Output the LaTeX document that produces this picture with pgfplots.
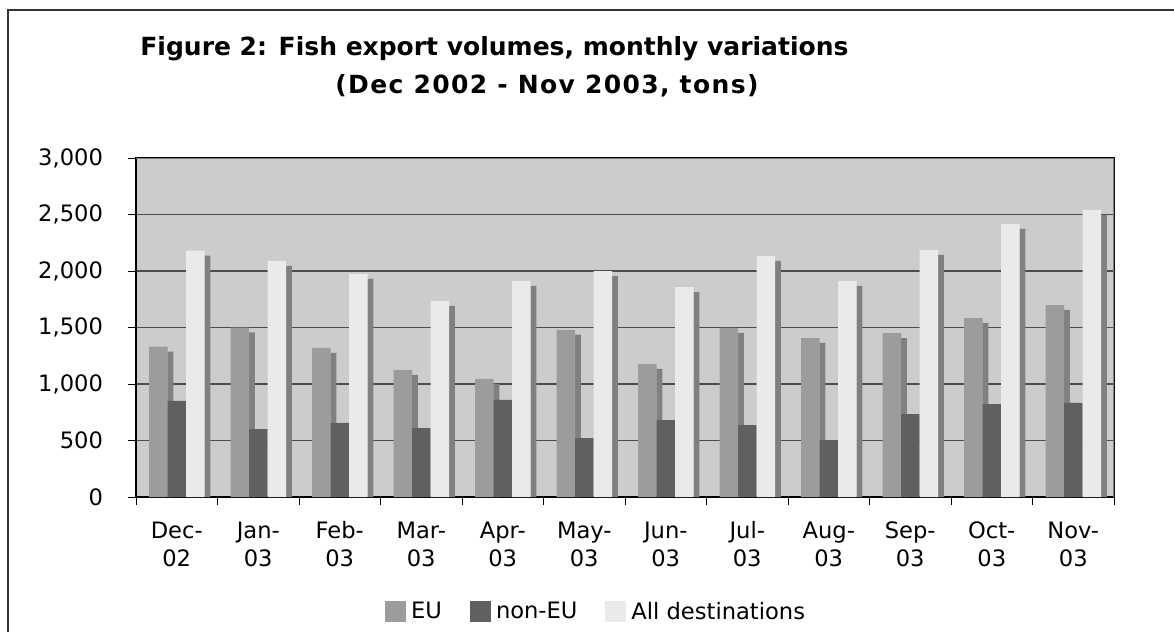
\documentclass[border=0pt]{standalone}
\usepackage{fontspec}
\setmainfont{DejaVu Sans}
\usepackage{pgfplots}
\usepackage{pgfplotstable}
\pgfplotsset{compat=1.18}
\definecolor{bgcol}{HTML}{CCCCCC}
\definecolor{eucol}{HTML}{9C9C9C}
\definecolor{sidecol}{HTML}{808080}
\definecolor{necol}{HTML}{606060}
\definecolor{allcol}{HTML}{EAEAEA}
\newcommand{\ml}[2]{\rule{0pt}{9pt}#1-\\#2}
\pgfplotstableread{
m EU nonEU All
0 1330 850 2180
1 1500 600 2090
2 1320 655 1975
3 1125 610 1735
4 1045 860 1912
5 1480 522 2000
6 1177 681 1858
7 1496 637 2133
8 1407 504 1912
9 1451 734 2186
10 1584 823 2416
11 1699 832 2540
}\datatable
\begin{document}
\begin{tikzpicture}
\path[use as bounding box] (0,0) rectangle (587pt,-316pt);
\draw[black!80, line width=0.7pt] (4pt,-330pt) -- (4pt,-5pt) -- (600pt,-5pt);
\node[anchor=base west, font=\fontsize{12.5}{15}\selectfont\bfseries, inner sep=0pt] at (70pt,-27.5pt) {Figure 2: Fish export volumes, monthly variations};
\node[anchor=base west, font=\fontsize{12.5}{15}\selectfont\bfseries\addfontfeature{LetterSpace=5.5}, inner sep=0pt] at (167.5pt,-46.5pt) {(Dec 2002 - Nov 2003, tons)};
\begin{axis}[
  at={(68pt,-248.5pt)}, anchor=south west,
  scale only axis, width=489pt, height=169.5pt,
  ybar,
  xmin=-0.5, xmax=11.5, ymin=0, ymax=3000,
  ytick={0,500,...,3000},
  xtick={0,...,11},
  xticklabels={{\ml{Dec}{02}},{\ml{Jan}{03}},{\ml{Feb}{03}},{\ml{Mar}{03}},{\ml{Apr}{03}},{\ml{May}{03}},{\ml{Jun}{03}},{\ml{Jul}{03}},{\ml{Aug}{03}},{\ml{Sep}{03}},{\ml{Oct}{03}},{\ml{Nov}{03}}},
  minor xtick={-0.5,0.5,...,11.5},
  major x tick style={draw=none},
  minor tick length=4pt, major tick length=4pt,
  tick align=outside,
  xtick pos=bottom, ytick pos=left,
  tick style={black, line width=0.5pt},
  ymajorgrids,
  major grid style={draw=black!70, line width=0.7pt},
  axis background/.style={fill=bgcol},
  axis line style={black, line width=0.6pt},
  /pgf/number format/assume math mode=true,
  /pgf/number format/.cd, fixed, 1000 sep={,}, /pgfplots/.cd,
  ticklabel style={font=\fontsize{11.3}{14}\selectfont},
  xticklabel style={align=center, yshift=-4pt},
  yticklabel style={xshift=-9pt},
  legend style={at={(0.472,-0.339)}, anchor=center, draw=none, fill=none,
    legend columns=3, font=\fontsize{11.3}{14}\selectfont,
    /tikz/every even column/.append style={column sep=11.5pt},
    nodes={inner xsep=2.5pt}},
  legend image code/.code={\fill[#1,draw=none] (0pt,-5.25pt) rectangle (10.5pt,5.25pt);},
]
\addplot[fill=sidecol, draw=none, bar width=0.0736, bar shift=-0.077, forget plot] table[x=m, y expr=\thisrow{EU}-44] {\datatable};
\addplot[fill=eucol, draw=none, bar width=0.227, bar shift=-0.227] table[x=m, y=EU] {\datatable};
\addlegendentry{EU}
\addplot[fill=necol, draw=none, bar width=0.227, bar shift=0] table[x=m, y=nonEU] {\datatable};
\addlegendentry{non-EU}
\addplot[fill=sidecol, draw=none, bar width=0.0736, bar shift=0.377, forget plot] table[x=m, y expr=\thisrow{All}-44] {\datatable};
\addplot[fill=allcol, draw=none, bar width=0.227, bar shift=0.227] table[x=m, y=All] {\datatable};
\addlegendentry{All destinations}
\draw[sidecol, line width=1pt] (rel axis cs:0,1) -- (rel axis cs:1,1) -- (rel axis cs:1,0);
\end{axis}
\end{tikzpicture}
\end{document}
